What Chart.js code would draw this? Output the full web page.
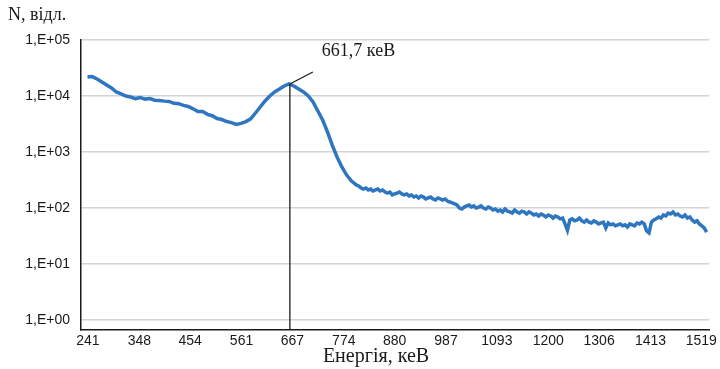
<!DOCTYPE html>
<html>
<head>
<meta charset="utf-8">
<script src="https://cdn.jsdelivr.net/npm/chart.js@4.4.1/dist/chart.umd.min.js"></script>
<style>
  html, body { margin: 0; padding: 0; background: #fff; }
  canvas { display: block; }
</style>
</head>
<body>
<canvas id="spectrum" width="720" height="369"></canvas>
<script>
// Gamma spectrum: channel energy (keV) and counts
const energies = [
  240, 250, 260, 270, 280, 290, 300, 310, 320, 330,
  340, 350, 360, 370, 380, 390, 400, 410, 420, 430,
  440, 450, 460, 470, 480, 490, 500, 510, 520, 530,
  540, 550, 560, 570, 580, 590, 600, 610, 620, 630,
  640, 650, 660, 670, 680, 690, 700, 710, 720, 730,
  740, 750, 760, 770,
  780, 785, 790, 795, 800, 805, 810, 815, 820, 825,
  830, 835, 840, 845, 850, 855, 860, 865, 870, 875,
  880, 885, 890, 895, 900, 905, 910, 915, 920, 925,
  930, 935, 940, 945, 950, 955, 960, 965, 970, 975,
  980, 985, 990, 995, 1000, 1005, 1010, 1015, 1020, 1025,
  1030, 1035, 1040, 1045, 1050, 1055, 1060, 1065, 1070, 1075,
  1080, 1085, 1090, 1095, 1100, 1105, 1110, 1115, 1120, 1125,
  1130, 1135, 1140, 1145, 1150, 1155, 1160, 1165, 1170, 1175,
  1180, 1185, 1190, 1195, 1200, 1205, 1210, 1215, 1220, 1225,
  1230, 1235, 1240, 1245, 1250, 1255, 1260, 1265, 1270, 1275,
  1280, 1285, 1290, 1295, 1300, 1305, 1310, 1315, 1320, 1325,
  1330, 1335, 1340, 1345, 1350, 1355, 1360, 1365, 1370, 1375,
  1380, 1385, 1390, 1395, 1400, 1405, 1410, 1415, 1420, 1425,
  1430, 1435, 1440, 1445, 1450, 1455, 1460, 1465, 1470, 1475,
  1480, 1485, 1490, 1495, 1500, 1505, 1510, 1515, 1520, 1525,
  1530
];
const counts = [
  21800, 22200, 20100, 17800, 15700, 13900, 11800, 10900, 10000, 9600,
  9000, 9400, 8800, 9000, 8400, 8300, 8100, 8000, 7400, 7300,
  6800, 6500, 5900, 5300, 5300, 4700, 4450, 3950, 3800, 3500,
  3350, 3100, 3250, 3500, 3900, 4970, 6360, 8150, 10000, 11800,
  13300, 15100, 16400, 15100, 13300, 11800, 10000, 7820, 5400, 3730,
  2280, 1330, 815, 540,
  388, 343, 303, 280, 258, 247, 228, 218, 228, 210,
  218, 201, 210, 218, 201, 210, 193, 185, 193, 171,
  178, 185, 193, 178, 171, 178, 164, 171, 157, 164,
  151, 164, 157, 145, 151, 157, 145, 139, 151, 145,
  139, 145, 133, 128, 123, 118, 113, 100, 96, 104,
  109, 113, 104, 109, 100, 104, 109, 100, 96, 104,
  100, 92, 96, 88, 92, 85, 96, 88, 85, 81,
  92, 85, 81, 88, 85, 78, 85, 81, 75, 78,
  72, 78, 75, 69, 75, 72, 66, 72, 69, 64,
  66, 52, 40, 61, 64, 59, 61, 66, 59, 56,
  61, 56, 54, 59, 56, 52, 54, 56, 44, 54,
  50, 52, 48, 50, 52, 48, 50, 46, 52, 50,
  48, 54, 52, 56, 52, 39, 36, 56, 61, 64,
  69, 66, 75, 72, 81, 78, 85, 75, 78, 72,
  69, 75, 66, 69, 61, 56, 59, 52, 48, 44,
  37
];

const xTickValues = [241, 348, 454, 561, 667, 774, 880, 987, 1093, 1200, 1306, 1413, 1519];
const yTickValues = [1, 10, 100, 1000, 10000, 100000];
const yTickLabels = ['1,E+00', '1,E+01', '1,E+02', '1,E+03', '1,E+04', '1,E+05'];

const yAxisTitle = 'N, відл.';
const xAxisTitle = 'Енергія, кеВ';
const peakEnergy = 661.7;
const peakLabel = '661,7 кеВ';

const SERIF = '"Liberation Serif", "Times New Roman", serif';
const SANS = '"Liberation Sans", Arial, sans-serif';

// Draws the axis captions and the photopeak marker with its label
const captionsAndMarker = {
  id: 'captionsAndMarker',
  afterDatasetsDraw(chart) {
    const { ctx, chartArea, scales } = chart;
    const xs = scales.x, ys = scales.y;

    let idx = 0;
    energies.forEach((e, i) => {
      if (Math.abs(e - peakEnergy) < Math.abs(energies[idx] - peakEnergy)) idx = i;
    });
    const px = xs.getPixelForValue(peakEnergy);
    const py = ys.getPixelForValue(counts[idx]);

    ctx.save();
    ctx.strokeStyle = '#1a1a1a';
    ctx.lineWidth = 1.3;
    ctx.beginPath();
    ctx.moveTo(px, py);
    ctx.lineTo(px, chartArea.bottom);
    ctx.stroke();
    ctx.beginPath();
    ctx.moveTo(px, py);
    ctx.lineTo(px + 23, py - 12);
    ctx.stroke();

    ctx.fillStyle = '#1a1a1a';
    ctx.textBaseline = 'middle';
    ctx.textAlign = 'left';
    ctx.font = '18px ' + SERIF;
    ctx.fillText(peakLabel, px + 32, py - 33);

    ctx.fillText(yAxisTitle, 8, 15);

    ctx.textAlign = 'center';
    ctx.font = '20px ' + SERIF;
    ctx.fillText(xAxisTitle, 376, 357);
    ctx.restore();
  }
};

new Chart(document.getElementById('spectrum'), {
  type: 'line',
  data: {
    datasets: [{
      data: energies.map((e, i) => ({ x: e, y: counts[i] })),
      borderColor: '#2f76c0',
      borderWidth: 3.5,
      pointRadius: 0,
      tension: 0,
      fill: false
    }]
  },
  options: {
    responsive: false,
    devicePixelRatio: 1,
    animation: false,
    layout: { padding: { top: 40, right: 8, bottom: 0, left: 0 } },
    plugins: {
      legend: { display: false },
      tooltip: { enabled: false }
    },
    scales: {
      x: {
        type: 'linear',
        min: 226.5,
        max: 1535.6,
        afterBuildTicks: (axis) => { axis.ticks = xTickValues.map(v => ({ value: v })); },
        afterFit: (axis) => { axis.height = 39; },
        grid: { display: false, drawTicks: false },
        border: { display: true, color: '#1a1a1a', width: 1.5 },
        ticks: {
          autoSkip: false,
          maxRotation: 0,
          padding: 3,
          color: '#1a1a1a',
          font: { family: SANS, size: 14 },
          callback: (v) => String(v)
        }
      },
      y: {
        type: 'logarithmic',
        min: 0.663,
        max: 100000,
        afterBuildTicks: (axis) => { axis.ticks = yTickValues.map(v => ({ value: v })); },
        afterFit: (axis) => { axis.width = 81; },
        grid: { display: true, drawTicks: false, color: '#d4d4d4', lineWidth: 1.5 },
        border: { display: true, color: '#1a1a1a', width: 1.5 },
        ticks: {
          padding: 11,
          color: '#1a1a1a',
          font: { family: SANS, size: 14 },
          callback: (v) => yTickLabels[yTickValues.indexOf(v)]
        }
      }
    }
  },
  plugins: [captionsAndMarker]
});
</script>
</body>
</html>
